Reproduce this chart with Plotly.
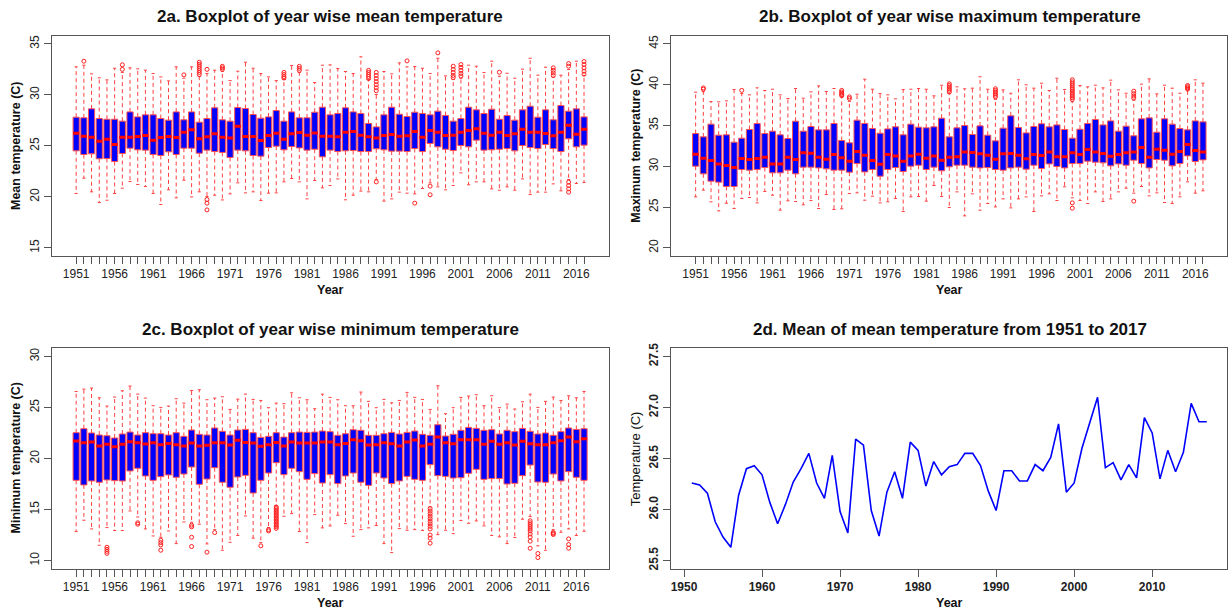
import plotly.graph_objects as go

years = list(range(1951, 2018))

# ---------- 2a: mean temperature boxplot stats ----------
mean_q1 = [24.51, 24.15, 24.22, 23.73, 23.76, 23.46, 24.25, 24.77, 24.61, 24.58,
           24.15, 24.05, 24.41, 24.15, 24.77, 24.77, 24.28, 24.58, 24.44, 24.35,
           23.86, 24.58, 24.51, 24.05, 23.99, 24.84, 24.97, 24.61, 24.93, 24.80,
           24.58, 24.67, 23.92, 24.58, 24.44, 24.51, 24.54, 24.44, 24.44, 24.71,
           24.61, 24.48, 24.48, 24.44, 24.74, 24.44, 25.23, 24.90, 24.67, 24.54,
           25.03, 24.90, 25.56, 24.58, 24.61, 24.67, 24.74, 24.51, 25.03, 24.84,
           24.74, 25.13, 24.74, 24.44, 25.69, 24.90, 25.07]
mean_med = [26.24, 25.95, 25.85, 25.46, 25.65, 25.13, 25.85, 25.85, 25.92, 26.01,
            25.56, 25.82, 25.92, 25.82, 26.34, 26.57, 25.69, 25.88, 26.18, 25.85,
            25.78, 26.93, 25.92, 25.92, 25.52, 26.01, 26.24, 25.65, 26.18, 26.31,
            26.05, 26.27, 25.95, 25.95, 25.88, 26.34, 26.41, 26.05, 25.88, 25.78,
            26.01, 26.11, 25.95, 25.98, 26.41, 25.85, 26.50, 26.34, 26.01, 26.05,
            26.34, 26.50, 26.67, 26.24, 26.05, 26.34, 26.01, 26.18, 26.63, 26.34,
            26.34, 26.21, 25.98, 26.34, 27.03, 26.14, 26.63]
mean_q3 = [27.81, 27.75, 28.63, 27.68, 27.61, 27.61, 27.42, 28.33, 27.84, 28.04,
           28.04, 27.68, 27.52, 28.33, 27.55, 28.33, 27.32, 27.68, 28.73, 27.55,
           27.42, 28.76, 28.66, 28.07, 27.71, 27.84, 28.46, 27.42, 28.33, 27.75,
           27.75, 28.30, 28.79, 28.04, 28.17, 28.73, 28.33, 28.17, 27.19, 26.86,
           28.04, 28.79, 28.10, 27.88, 28.30, 28.17, 28.04, 28.40, 27.97, 27.42,
           27.68, 28.79, 28.53, 28.17, 28.59, 27.61, 27.97, 27.52, 28.53, 28.89,
           27.81, 28.53, 27.55, 28.95, 28.40, 28.63, 27.84]
mean_hi = [32.75, 32.91, 32.06, 31.67, 31.47, 32.61, 32.20, 32.65, 32.55, 32.42,
           32.09, 31.76, 31.37, 32.75, 31.63, 32.75, 31.80, 32.10, 32.42, 32.30,
           31.40, 32.32, 33.20, 32.61, 32.09, 31.76, 31.40, 31.50, 32.88, 32.20,
           32.42, 31.21, 32.91, 32.94, 32.58, 32.29, 32.09, 33.73, 31.50, 30.03,
           32.29, 32.06, 33.14, 32.75, 32.78, 32.61, 32.09, 33.59, 31.86, 31.50,
           31.63, 32.91, 32.81, 32.19, 33.30, 31.83, 32.12, 31.63, 32.52, 33.59,
           31.93, 32.71, 31.73, 31.93, 32.48, 33.30, 31.90]
mean_lo = [20.33, 21.83, 20.49, 19.44, 19.67, 20.33, 20.85, 21.50, 21.21, 21.01,
           20.33, 19.25, 20.69, 19.90, 21.63, 20.00, 20.49, 20.03, 20.16, 19.70,
           20.29, 21.37, 20.39, 20.49, 19.64, 20.36, 20.39, 21.47, 21.80, 21.47,
           19.80, 21.60, 20.88, 21.11, 21.76, 19.71, 20.16, 20.56, 20.49, 21.70,
           19.58, 19.80, 20.46, 20.36, 20.29, 20.82, 21.37, 20.98, 20.69, 21.11,
           22.35, 21.18, 21.47, 21.47, 20.78, 20.65, 20.98, 20.65, 21.76, 20.23,
           20.46, 20.46, 21.27, 20.59, 21.70, 21.31, 21.41]
mean_out_year = [1952, 1957, 1957, 1965,
                 1967, 1967, 1967, 1967, 1967, 1967, 1967,
                 1968, 1968, 1968, 1968, 1970, 1970, 1970,
                 1978, 1978, 1978, 1978, 1980, 1980, 1980,
                 1989, 1989, 1989, 1989, 1989,
                 1990, 1990, 1990, 1990, 1990, 1990, 1990, 1990,
                 1994, 1995, 1997, 1997, 1998,
                 2000, 2000, 2000, 2000, 2000, 2001, 2001, 2001, 2001, 2001,
                 2006, 2013, 2013, 2013, 2013,
                 2015, 2015, 2015, 2015, 2015, 2015,
                 2017, 2017, 2017, 2017, 2017]
mean_out_val = [33.3, 32.95, 32.5, 31.96,
                33.2, 33.0, 32.8, 32.6, 32.4, 32.2, 32.0,
                32.5, 19.74, 19.38, 18.72, 32.8, 32.65, 32.5,
                32.2, 32.0, 31.8, 31.65, 32.8, 32.6, 32.4,
                32.4, 32.2, 32.0, 31.8, 31.6,
                32.2, 31.9, 31.6, 31.3, 31.0, 30.7, 30.4, 21.47,
                33.33, 19.38, 21.05, 20.2, 34.12,
                32.81, 32.5, 32.2, 31.9, 31.7, 32.97, 32.7, 32.4, 32.1, 31.85,
                32.22, 32.65, 32.4, 32.15, 31.9,
                33.07, 32.81, 21.44, 21.11, 20.78, 20.46,
                33.27, 32.97, 32.65, 32.32, 32.03]

# ---------- 2b: maximum temperature boxplot stats ----------
max_q1 = [30.01, 29.07, 28.17, 28.05, 27.52, 27.52, 29.60, 29.52, 29.60, 29.84,
          29.19, 29.19, 29.52, 29.07, 29.89, 29.89, 29.80, 29.68, 29.52, 29.52,
          29.27, 30.33, 29.31, 29.60, 28.78, 29.60, 29.84, 29.35, 30.01, 30.13,
          29.60, 29.89, 29.44, 29.93, 30.13, 30.13, 29.89, 29.80, 29.84, 29.60,
          29.52, 29.80, 29.89, 29.64, 30.13, 29.72, 30.29, 29.97, 29.80, 30.33,
          30.33, 30.62, 30.50, 30.42, 30.05, 30.29, 30.13, 30.74, 30.33, 29.80,
          30.83, 30.74, 30.05, 30.33, 31.27, 30.58, 30.78]
max_med = [31.48, 30.99, 30.70, 30.29, 30.09, 29.84, 30.95, 30.83, 30.95, 31.11,
           30.29, 30.29, 31.11, 30.83, 31.64, 31.60, 31.11, 30.87, 31.44, 31.03,
           30.62, 31.81, 31.36, 30.70, 30.25, 31.44, 31.27, 30.62, 31.27, 31.48,
           30.99, 31.27, 30.74, 31.11, 31.15, 31.76, 31.68, 31.52, 31.36, 30.87,
           31.52, 31.56, 31.36, 30.91, 31.44, 31.32, 31.76, 31.15, 31.15, 31.64,
           31.44, 32.05, 31.76, 31.56, 31.23, 31.44, 31.64, 31.76, 32.30, 31.11,
           32.09, 31.97, 31.48, 31.81, 32.66, 31.93, 31.76]
max_q3 = [34.01, 33.60, 35.16, 33.81, 33.85, 32.95, 33.44, 34.50, 35.24, 34.01,
          34.30, 33.85, 33.40, 35.52, 34.30, 34.87, 34.46, 34.46, 35.24, 33.15,
          32.87, 35.65, 35.24, 34.62, 34.05, 34.58, 34.83, 33.85, 35.16, 34.79,
          34.71, 34.83, 35.89, 33.60, 34.71, 34.99, 33.89, 34.95, 33.81, 33.11,
          34.67, 36.18, 34.75, 34.09, 34.87, 35.20, 34.83, 35.07, 34.50, 33.44,
          34.54, 35.24, 35.73, 35.07, 35.56, 34.30, 34.91, 33.73, 35.81, 35.93,
          34.17, 35.81, 35.16, 34.62, 34.46, 35.56, 35.44]
max_hi = [39.08, 39.15, 37.93, 37.89, 38.01, 39.40, 38.91, 38.75, 39.61, 39.28,
          39.44, 38.75, 38.30, 39.53, 38.34, 39.12, 39.85, 39.16, 39.53, 38.50,
          37.95, 38.83, 40.67, 39.44, 38.91, 38.75, 38.26, 39.40, 39.44, 39.53,
          39.44, 38.63, 39.93, 38.90, 39.73, 39.49, 39.57, 40.96, 39.44, 38.20,
          39.36, 38.95, 40.59, 39.98, 39.57, 40.18, 39.28, 40.79, 39.40, 37.90,
          39.89, 39.73, 39.93, 39.61, 40.55, 39.36, 38.95, 38.10, 40.06, 40.71,
          38.87, 39.93, 39.57, 38.95, 39.30, 40.59, 40.18]
max_lo = [26.25, 27.07, 25.64, 24.53, 25.47, 24.82, 26.05, 26.17, 25.51, 26.90,
          26.45, 24.62, 25.76, 25.68, 25.27, 25.80, 24.82, 26.54, 24.70, 24.78,
          26.66, 26.74, 25.84, 26.33, 25.51, 25.64, 26.05, 24.45, 26.25, 26.29,
          25.72, 27.64, 26.29, 24.94, 26.86, 23.92, 26.62, 24.62, 25.43, 25.02,
          26.00, 24.90, 26.00, 26.25, 24.45, 26.37, 26.62, 25.80, 27.48, 26.13,
          25.80, 25.43, 26.86, 25.68, 26.00, 26.86, 27.31, 26.70, 27.52, 26.37,
          26.74, 25.56, 25.43, 26.25, 28.09, 26.70, 26.99]
max_out_year = [1952, 1952, 1957,
                1970, 1970, 1970, 1970, 1970, 1971, 1971,
                1984, 1984, 1984, 1984, 1984, 1984,
                1990, 1990, 1990, 1990, 1990, 1990,
                2000, 2000, 2000, 2000, 2000, 2000, 2000, 2000, 2000, 2000, 2000, 2000, 2000, 2000,
                2008, 2008, 2008, 2008, 2008,
                2015, 2015, 2015, 2015]
max_out_val = [39.6, 39.45, 39.3,
               39.3, 39.1, 38.95, 38.8, 38.65, 38.5, 38.3,
               40.1, 39.9, 39.7, 39.5, 39.3, 39.1,
               39.5, 39.3, 39.1, 38.9, 38.7, 38.5,
               40.6, 40.35, 40.1, 39.85, 39.6, 39.4, 39.2, 39.0, 38.8, 38.6, 38.4, 38.2, 25.51, 24.86,
               39.2, 38.9, 38.6, 38.35, 25.72,
               39.9, 39.75, 39.6, 39.45]

# ---------- 2c: minimum temperature boxplot stats ----------
min_q1 = [17.86, 17.41, 17.80, 17.67, 17.90, 17.83, 17.80, 18.78, 19.04, 18.29,
          17.86, 18.22, 18.39, 18.16, 18.48, 19.17, 17.47, 17.99, 19.10, 17.67,
          17.18, 18.19, 18.35, 16.62, 17.86, 18.58, 19.59, 18.42, 19.04, 18.71,
          17.96, 18.52, 17.60, 18.42, 17.54, 18.29, 18.58, 17.67, 17.37, 18.58,
          18.09, 17.54, 17.80, 18.25, 17.96, 17.86, 19.40, 18.32, 18.25, 18.09,
          18.12, 18.55, 18.94, 17.96, 18.03, 18.03, 17.50, 17.57, 18.32, 19.36,
          17.70, 17.67, 18.48, 17.80, 18.71, 18.16, 17.86]
min_med = [21.71, 21.55, 21.62, 21.22, 21.39, 21.16, 21.39, 21.65, 21.55, 21.42,
           21.55, 21.35, 21.48, 21.35, 21.22, 21.52, 21.22, 21.29, 21.55, 21.55,
           21.32, 21.78, 21.58, 21.52, 21.19, 21.35, 21.58, 21.22, 21.62, 21.52,
           21.52, 21.52, 21.62, 21.62, 21.35, 21.48, 21.84, 21.75, 21.32, 21.35,
           21.55, 21.45, 21.22, 21.62, 21.81, 21.22, 21.39, 22.10, 21.55, 21.45,
           21.84, 21.84, 21.84, 21.39, 21.68, 21.39, 21.55, 21.32, 21.68, 21.45,
           21.35, 21.35, 21.55, 21.75, 22.10, 21.65, 21.94]
min_q3 = [22.53, 22.92, 22.50, 22.30, 22.23, 22.01, 22.40, 22.59, 22.30, 22.53,
          22.43, 22.43, 22.30, 22.53, 22.17, 22.79, 22.37, 22.30, 22.99, 22.66,
          22.30, 22.79, 22.85, 22.53, 22.07, 22.17, 22.53, 22.10, 22.53, 22.59,
          22.56, 22.59, 22.69, 22.63, 22.27, 22.43, 22.82, 22.76, 22.27, 22.27,
          22.43, 22.56, 22.40, 22.56, 22.69, 22.37, 22.27, 23.31, 22.20, 22.37,
          22.76, 23.05, 22.95, 22.76, 22.82, 22.40, 22.76, 22.63, 22.95, 22.66,
          22.40, 22.50, 22.27, 22.63, 22.99, 22.85, 22.92]
min_hi = [26.57, 26.80, 26.90, 25.95, 25.14, 26.02, 26.64, 27.10, 26.31, 25.92,
          25.17, 25.01, 25.14, 25.86, 25.43, 26.67, 26.74, 25.76, 25.92, 26.05,
          24.81, 25.82, 26.31, 25.79, 25.69, 24.98, 25.43, 25.37, 26.44, 25.95,
          25.76, 24.88, 26.31, 25.99, 25.76, 25.17, 25.17, 26.51, 25.60, 24.98,
          25.79, 25.46, 25.69, 26.48, 25.99, 25.79, 24.81, 27.13, 24.39, 24.98,
          25.99, 26.12, 26.25, 25.17, 26.15, 24.98, 25.33, 24.85, 25.56, 26.31,
          25.01, 25.60, 26.02, 25.69, 26.15, 25.95, 26.57]
min_lo = [12.84, 13.95, 13.10, 11.50, 13.23, 12.94, 12.94, 14.86, 14.27, 13.10,
          12.41, 12.28, 12.90, 11.66, 13.78, 13.75, 13.56, 11.63, 13.03, 11.01,
          11.79, 12.45, 14.37, 12.19, 11.76, 13.23, 15.38, 14.34, 14.60, 12.84,
          11.76, 14.50, 13.20, 13.39, 14.44, 13.62, 12.38, 13.03, 13.20, 13.43,
          11.66, 10.78, 13.13, 12.97, 13.03, 12.94, 15.25, 12.54, 12.97, 12.64,
          13.92, 13.65, 13.88, 13.39, 12.45, 12.32, 11.66, 12.25, 14.05, 14.31,
          11.44, 11.01, 13.03, 12.77, 13.10, 12.45, 12.87]
min_out_year = [1955, 1955, 1955, 1955, 1959, 1959,
                1962, 1962, 1962, 1962, 1966, 1966, 1966, 1966,
                1968, 1969, 1975, 1976, 1976] + [1977] * 15 + [1997] * 12 + [2010] * 10 + \
               [2011, 2011, 2013, 2013, 2013, 2015, 2015, 2015]
min_out_val = [11.3, 11.1, 10.9, 10.7, 13.7, 13.56,
               11.99, 11.76, 11.53, 11.01, 13.46, 13.30, 12.28, 11.37,
               10.82, 12.74, 11.44, 13.03, 12.90,
               15.25, 15.1, 14.95, 14.8, 14.65, 14.5, 14.35, 14.2, 14.05, 13.9, 13.75, 13.6, 13.45, 13.3, 13.15,
               15.1, 14.85, 14.6, 14.35, 14.1, 13.85, 13.6, 13.35, 13.1, 12.5, 12.2, 11.7,
               13.9, 13.7, 13.5, 13.3, 13.1, 12.9, 12.6, 12.3, 11.9, 11.2,
               10.69, 10.29, 12.75, 12.65, 12.55, 12.12, 11.57, 11.21]

# ---------- 2d: mean of mean temperature ----------
mean_of_mean = [26.26, 26.24, 26.16, 25.88, 25.73, 25.63, 26.14, 26.40, 26.43, 26.34,
                26.07, 25.86, 26.05, 26.27, 26.40, 26.55, 26.26, 26.11, 26.53, 25.98,
                25.77, 26.69, 26.63, 25.99, 25.74, 26.17, 26.37, 26.11, 26.66, 26.58,
                26.23, 26.47, 26.34, 26.42, 26.44, 26.55, 26.55, 26.43, 26.18, 25.99,
                26.38, 26.38, 26.28, 26.28, 26.44, 26.38, 26.51, 26.84, 26.17, 26.26,
                26.60, 26.86, 27.10, 26.41, 26.46, 26.29, 26.44, 26.31, 26.90, 26.75,
                26.30, 26.58, 26.37, 26.56, 27.04, 26.86, 26.86]

FONT = "Liberation Sans, Arial, sans-serif"
W, H = 1228, 613


def px_x(p):
    return p / W


def px_y(p):
    return 1 - p / H


fig = go.Figure()


def add_box_panel(xa, ya, q1, med, q3, lo, hi, oy, ov):
    wx, wy = [], []
    for yr, a, b, c, d in zip(years, q1, q3, lo, hi):
        wx += [yr, yr, None, yr, yr, None]
        wy += [b, d, None, a, c, None]
    fig.add_trace(go.Scatter(x=wx, y=wy, mode="lines", xaxis=xa, yaxis=ya,
                             line=dict(color="#ff4040", width=1, dash="4px,3px"),
                             hoverinfo="skip", showlegend=False))
    sx, sy = [], []
    for yr, c, d in zip(years, lo, hi):
        sx += [yr - 0.2, yr + 0.2, None, yr - 0.2, yr + 0.2, None]
        sy += [d, d, None, c, c, None]
    fig.add_trace(go.Scatter(x=sx, y=sy, mode="lines", xaxis=xa, yaxis=ya,
                             line=dict(color="#ff4040", width=1),
                             hoverinfo="skip", showlegend=False))
    fig.add_trace(go.Bar(x=years, y=[b - a for a, b in zip(q1, q3)], base=q1, width=0.8,
                         xaxis=xa, yaxis=ya,
                         marker=dict(color="#0000ff", line=dict(color="#ff5050", width=1)),
                         hoverinfo="skip", showlegend=False))
    mx, my = [], []
    for yr, m in zip(years, med):
        mx += [yr - 0.4, yr + 0.4, None]
        my += [m, m, None]
    fig.add_trace(go.Scatter(x=mx, y=my, mode="lines", xaxis=xa, yaxis=ya,
                             line=dict(color="#ff0000", width=3),
                             hoverinfo="skip", showlegend=False))
    fig.add_trace(go.Scatter(x=oy, y=ov, mode="markers", xaxis=xa, yaxis=ya,
                             marker=dict(symbol="circle-open", size=4, color="#ff2020",
                                         line=dict(width=1, color="#ff2020")),
                             hoverinfo="skip", showlegend=False))


add_box_panel("x", "y", mean_q1, mean_med, mean_q3, mean_lo, mean_hi, mean_out_year, mean_out_val)
add_box_panel("x2", "y2", max_q1, max_med, max_q3, max_lo, max_hi, max_out_year, max_out_val)
add_box_panel("x3", "y3", min_q1, min_med, min_q3, min_lo, min_hi, min_out_year, min_out_val)

fig.add_trace(go.Scatter(x=years, y=mean_of_mean, mode="lines", xaxis="x4", yaxis="y4",
                         line=dict(color="#0000ff", width=1.6),
                         hoverinfo="skip", showlegend=False))

LEFT = [px_x(51.7), px_x(608.5)]
RIGHT = [px_x(671.2), px_x(1227.4)]
TOP = [px_y(256), px_y(35.7)]
BOT = [px_y(568.7), px_y(348.3)]

year_text = [str(y) if (y - 1951) % 5 == 0 else "" for y in years]
tick_font = dict(family=FONT, size=12, color="#222")
bold_tick_font = dict(family=FONT, size=12, color="#222", weight="bold")

common = dict(showgrid=False, zeroline=False, showline=True, mirror=True,
              linecolor="#555", linewidth=1, ticks="outside", ticklen=7,
              tickwidth=1, tickcolor="#555", automargin=False)


def box_xaxis(domain, anchor):
    return dict(domain=domain, anchor=anchor, range=[1947.82, 2020.18],
                tickmode="array", tickvals=years, ticktext=year_text,
                tickfont=tick_font, **common)


def box_yaxis(domain, anchor, rng, vals):
    return dict(domain=domain, anchor=anchor, range=rng, tickmode="array",
                tickvals=vals, ticktext=[str(v) for v in vals], tickangle=-90,
                tickfont=tick_font, **common)


fig.update_layout(
    width=W, height=H, margin=dict(l=0, r=0, t=0, b=0, autoexpand=False),
    paper_bgcolor="white", plot_bgcolor="white", barmode="overlay",
    showlegend=False,
    xaxis=box_xaxis(LEFT, "y"),
    yaxis=box_yaxis(TOP, "x", [14.2, 35.8], [15, 20, 25, 30, 35]),
    xaxis2=box_xaxis(RIGHT, "y2"),
    yaxis2=box_yaxis(TOP, "x2", [19, 46], [20, 25, 30, 35, 40, 45]),
    xaxis3=box_xaxis(LEFT, "y3"),
    yaxis3=box_yaxis(BOT, "x3", [9.2, 30.8], [10, 15, 20, 25, 30]),
    xaxis4=dict(domain=RIGHT, anchor="y4", range=[1948.36, 2019.64], tickmode="array",
                tickvals=[1950, 1960, 1970, 1980, 1990, 2000, 2010],
                tickfont=bold_tick_font, **common),
    yaxis4=dict(domain=BOT, anchor="x4", range=[25.42, 27.58], tickmode="array",
                tickvals=[25.5, 26.0, 26.5, 27.0, 27.5],
                ticktext=["25.5", "26.0", "26.5", "27.0", "27.5"], tickangle=-90,
                tickfont=bold_tick_font, **common),
)

title_font = dict(family=FONT, size=17, color="#111", weight="bold")
lab_font = dict(family=FONT, size=12.5, color="#111", weight="bold")
lab_font_plain = dict(family=FONT, size=13, color="#111")

ann = []


def add_text(text, x, y, font, angle=0):
    ann.append(dict(text=text, x=px_x(x), y=px_y(y), xref="paper", yref="paper",
                    showarrow=False, font=font, textangle=angle,
                    xanchor="center", yanchor="middle"))


add_text("2a. Boxplot of year wise mean temperature", 330, 17, title_font)
add_text("2b. Boxplot of year wise maximum temperature", 949.5, 17, title_font)
add_text("2c. Boxplot of year wise minimum temperature", 330, 329.5, title_font)
add_text("2d. Mean of mean temperature from 1951 to 2017", 949.5, 329.5, title_font)

add_text("Year", 330, 290.5, lab_font)
add_text("Year", 949.5, 290.5, lab_font)
add_text("Year", 330, 603, lab_font)
add_text("Year", 949.5, 603, lab_font)

add_text("Mean temperature (C)", 16, 146, lab_font, -90)
add_text("Maximum temperature (C)", 635.7, 146, lab_font, -90)
add_text("Minimum temperature (C)", 16, 458.5, lab_font, -90)
add_text("Temperature (C)", 635.7, 458.5, lab_font_plain, -90)

fig.update_layout(annotations=ann)

fig.write_html("out.html")
